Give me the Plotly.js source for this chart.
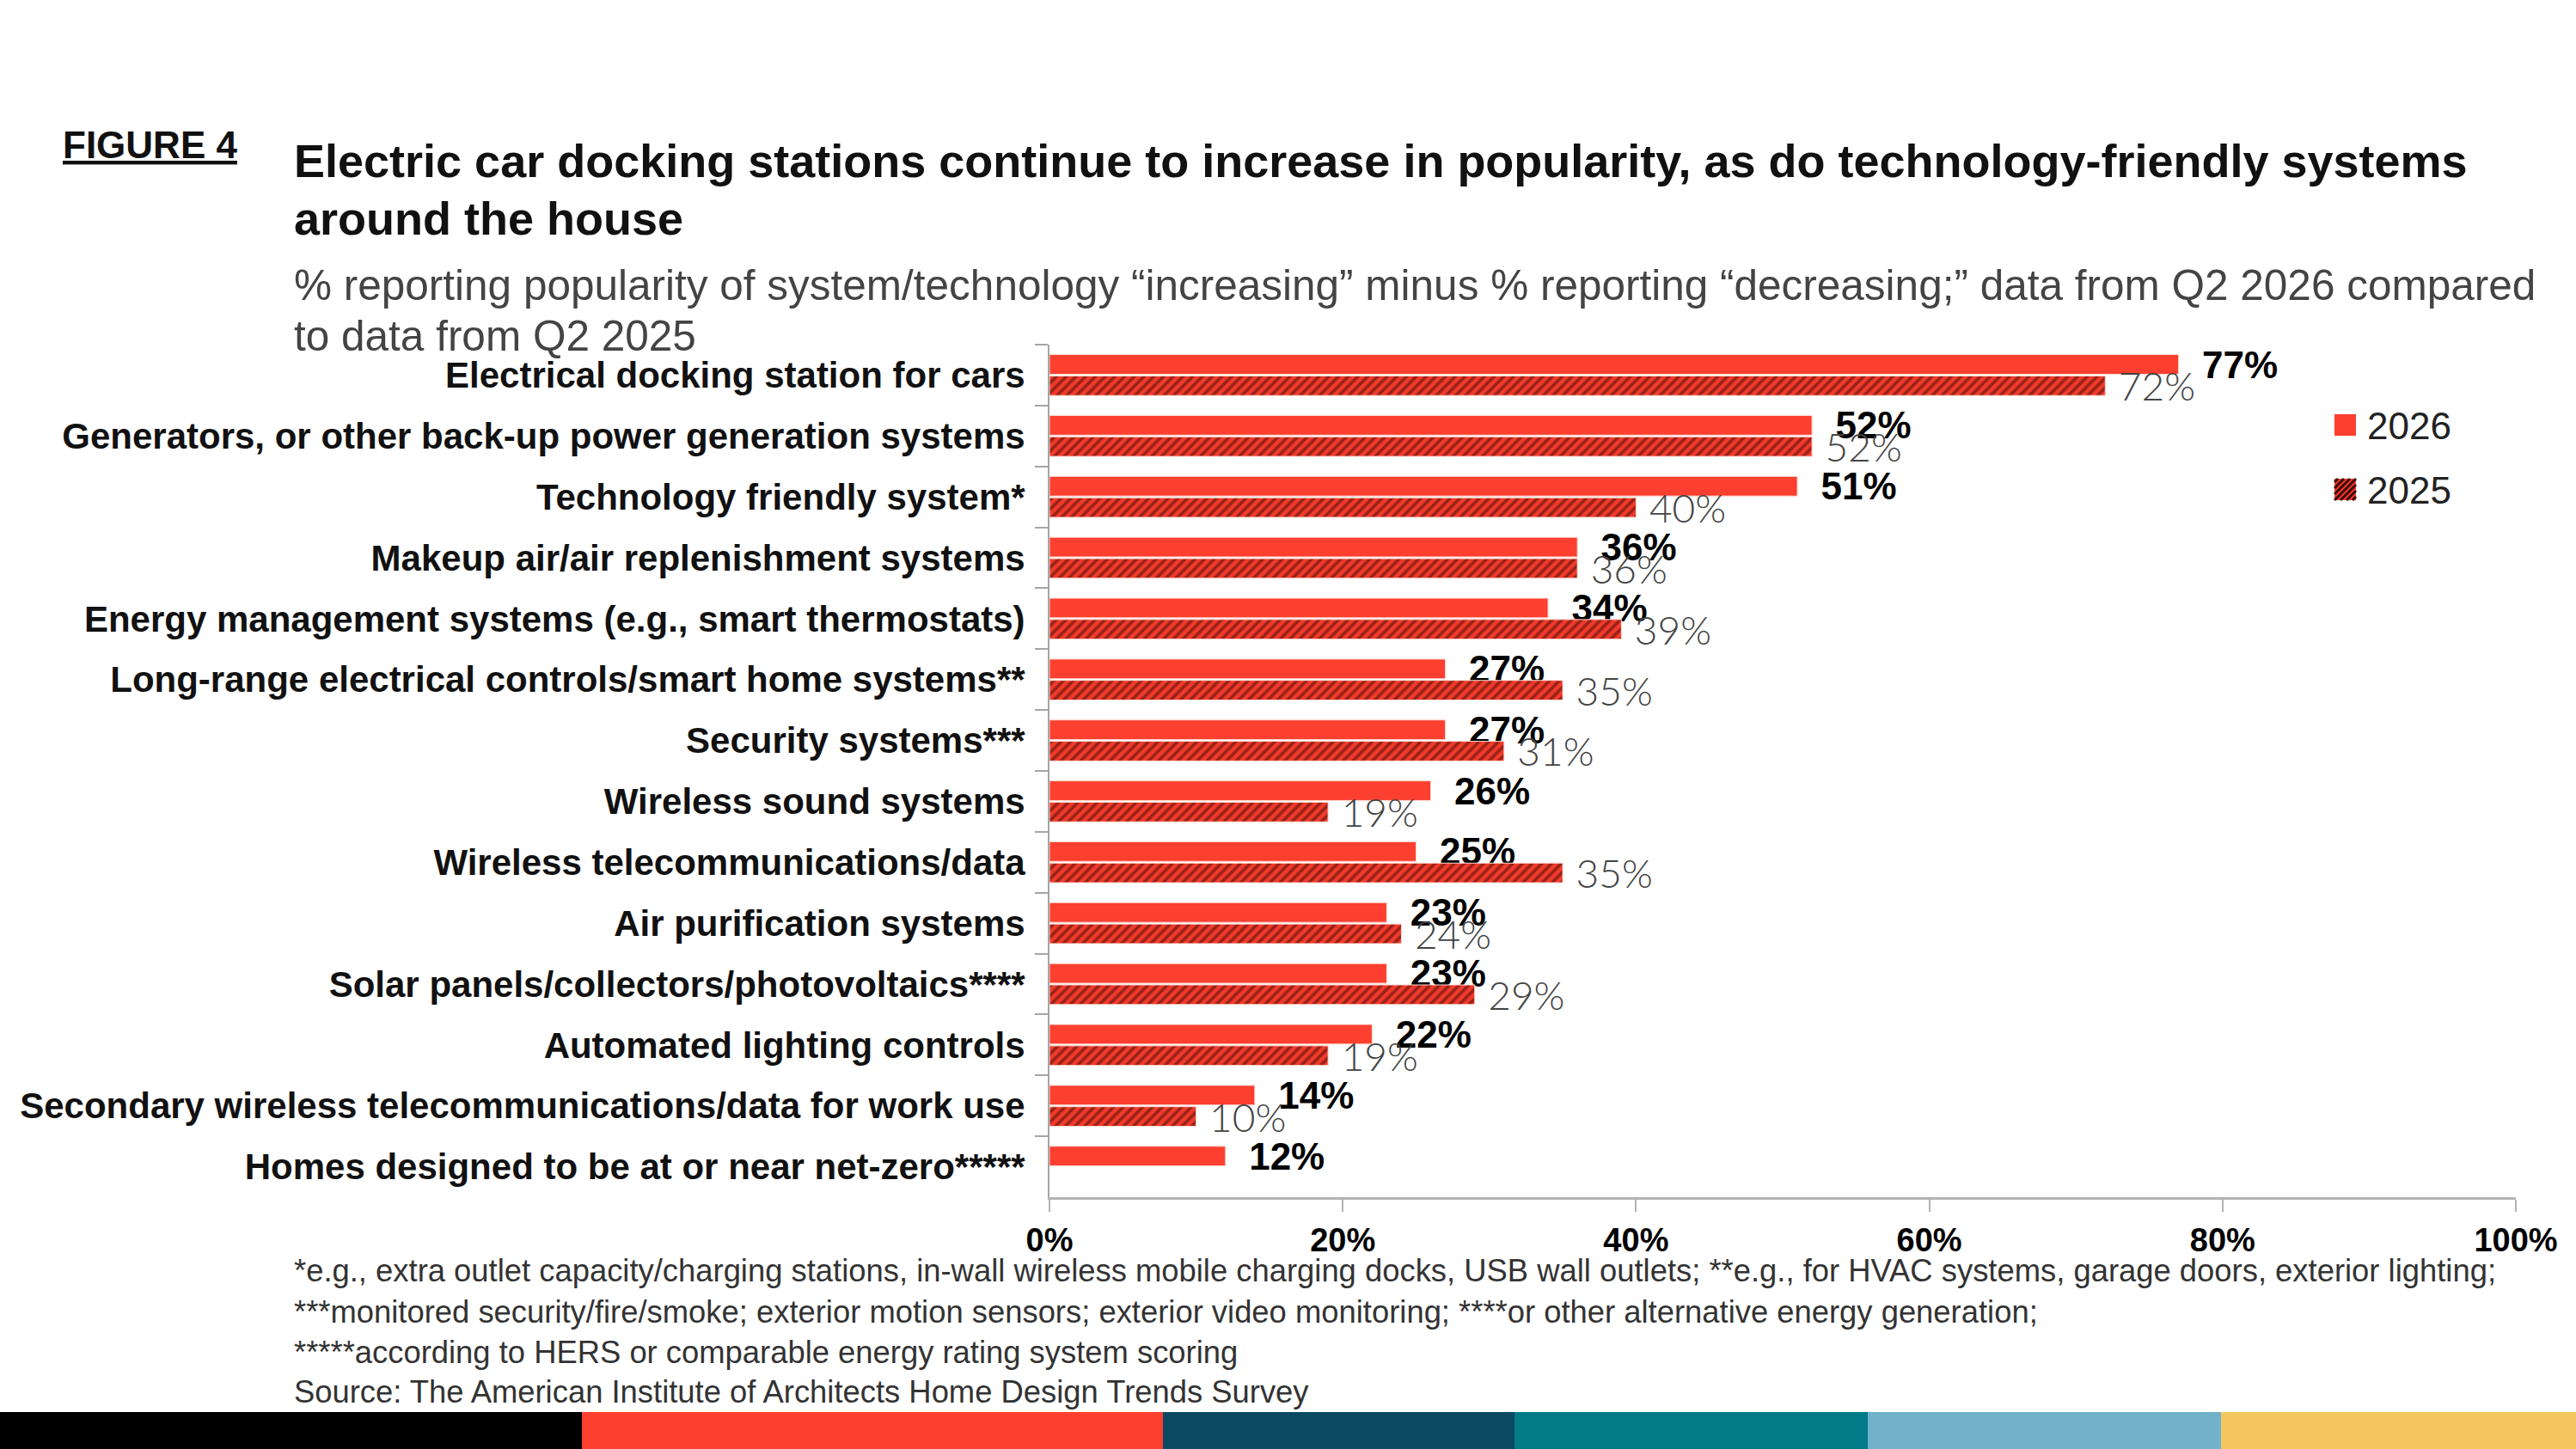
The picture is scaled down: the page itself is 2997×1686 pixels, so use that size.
<!DOCTYPE html>
<html>
<head>
<meta charset="utf-8">
<script src="https://cdn.plot.ly/plotly-3.0.1.min.js"></script>
<style>
html,body{margin:0;padding:0;background:#fff;}
#chart{width:2997px;height:1686px;}
</style>
</head>
<body>
<div id="chart"></div>
<script>
// ---- Data ----
const categories = [
  "Electrical docking station for cars",
  "Generators, or other back-up power generation systems",
  "Technology friendly system*",
  "Makeup air/air replenishment systems",
  "Energy management systems (e.g., smart thermostats)",
  "Long-range electrical controls/smart home systems**",
  "Security systems***",
  "Wireless sound systems",
  "Wireless telecommunications/data",
  "Air purification systems",
  "Solar panels/collectors/photovoltaics****",
  "Automated lighting controls",
  "Secondary wireless telecommunications/data for work use",
  "Homes designed to be at or near net-zero*****"
];
const values2026 = [77, 52, 51, 36, 34, 27, 27, 26, 25, 23, 23, 22, 14, 12];
const values2025 = [72, 52, 40, 36, 39, 35, 31, 19, 35, 24, 29, 19, 10, null];
const seriesNames = ["2026", "2025"];
const xTickVals = [0, 20, 40, 60, 80, 100];
const xTickText = xTickVals.map(v => v + "%");

const figureLabel = "FIGURE 4";
const titleLines = [
  "Electric car docking stations continue to increase in popularity, as do technology-friendly systems",
  "around the house"
];
const subtitleLines = [
  "% reporting popularity of system/technology “increasing” minus % reporting “decreasing;” data from Q2 2026 compared",
  "to data from Q2 2025"
];
const footnotes = [
  "*e.g., extra outlet capacity/charging stations, in-wall wireless mobile charging docks, USB wall outlets; **e.g., for HVAC systems, garage doors, exterior lighting;",
  "***monitored security/fire/smoke; exterior motion sensors; exterior video monitoring; ****or other alternative energy generation;",
  "*****according to HERS or comparable energy rating system scoring",
  "Source: The American Institute of Architects Home Design Trends Survey"
];
const stripeColors = ["#000000", "#fc3f2f", "#0b4a62", "#047b88", "#71b1ca", "#f3c75d"];

// ---- Layout geometry (pixels) ----
const W = 2997, H = 1686;
const L = 1221, R = 2927, T = 401, B = 1393;
const PW = R - L, PH = B - T;
const px = x => (x - L) / PW;
const py = y => (B - y) / PH;

const RED = "#fc3f2f";
const HATCH = "#3d0905";
const NB = "\u00A0";

const traces = [
  {
    type: "bar", orientation: "h", name: seriesNames[0],
    y: categories, x: values2026,
    marker: {color: RED, line: {color: "#ffd9d2", width: 1}},
    text: values2026.map(v => v == null ? "" : NB + NB + v + "%"),
    textposition: "outside", cliponaxis: false, constraintext: "none",
    textfont: {family: "Liberation Sans, Arial, sans-serif", size: 44, color: "#000", weight: 700},
    showlegend: false, hoverinfo: "skip"
  },
  {
    type: "bar", orientation: "h", name: seriesNames[1],
    y: categories, x: values2025,
    marker: {color: RED, line: {color: "#ffd9d2", width: 1},
      pattern: {shape: "/", fgcolor: HATCH, bgcolor: "#f23a2b", size: 8, solidity: 0.45, fillmode: "overlay"}},
    text: values2025.map(v => v == null ? "" : NB + v + "%"),
    textposition: "outside", cliponaxis: false, constraintext: "none",
    textfont: {family: "Lato, Liberation Sans, sans-serif", size: 46, color: "#444", weight: 300},
    showlegend: false, hoverinfo: "skip"
  }
];

const annotations = [
  {text: "<u>" + figureLabel + "</u>", x: px(71), y: py(168), xanchor: "left", yanchor: "middle",
   font: {family: "Liberation Sans Narrow, Liberation Sans, sans-serif", size: 44, color: "#111", weight: 700}}
];
const titleY = [187, 254];
titleLines.forEach((t, i) => annotations.push({
  text: t, x: px(340), y: py(titleY[i]), xanchor: "left", yanchor: "middle", align: "left",
  font: {family: "Liberation Sans, Arial, sans-serif", size: 54, color: "#111", weight: 700}
}));
const subY = [331, 390];
subtitleLines.forEach((t, i) => annotations.push({
  text: t, x: px(340), y: py(subY[i]), xanchor: "left", yanchor: "middle", align: "left",
  font: {family: "Liberation Sans, Arial, sans-serif", size: 49.5, color: "#444"}
}));
const footY = [1478, 1526, 1573, 1619];
footnotes.forEach((t, i) => annotations.push({
  text: t, x: px(340), y: py(footY[i]), xanchor: "left", yanchor: "middle", align: "left",
  font: {family: "Liberation Sans, Arial, sans-serif", size: 36.4, color: "#333"}
}));

// legend (drawn manually for matching symbol size)
const legendItems = [
  {name: seriesNames[0], top: 482, hatch: false},
  {name: seriesNames[1], top: 557, hatch: true}
];
const LX0 = 2716, LS = 25;
const shapes = [];
legendItems.forEach(it => {
  annotations.push({text: it.name, x: px(2752), y: py(it.top + LS / 2 + 1), xanchor: "left", yanchor: "middle",
    font: {family: "Liberation Sans, Arial, sans-serif", size: 44, color: "#222"}});
  shapes.push({type: "rect", xref: "paper", yref: "paper", layer: "above",
    x0: px(LX0), x1: px(LX0 + LS), y0: py(it.top + LS), y1: py(it.top),
    fillcolor: it.hatch ? "#f23a2b" : RED, line: {width: 0}});
  if (it.hatch) {
    for (let c = -LS + 4; c < LS; c += 7) {
      let xa = Math.max(0, c), xb = Math.min(LS, LS + c);
      if (xb - xa < 1) continue;
      shapes.push({type: "line", xref: "paper", yref: "paper", layer: "above",
        x0: px(LX0 + xa), y0: py(it.top + LS - (xa - c)),
        x1: px(LX0 + xb), y1: py(it.top + LS - (xb - c)),
        line: {color: HATCH, width: 3}});
    }
  }
});

annotations.forEach(a => { a.xref = "paper"; a.yref = "paper"; a.showarrow = false; });

const stripeEdges = [0, 677, 1353, 1762, 2173, 2584, 2997];
stripeColors.forEach((c, i) => shapes.push({
  type: "rect", xref: "paper", yref: "paper", layer: "above",
  x0: px(stripeEdges[i]), x1: px(stripeEdges[i + 1]), y0: py(1643), y1: py(1686),
  fillcolor: c, line: {width: 0}
}));

const layout = {
  width: W, height: H,
  paper_bgcolor: "#fff", plot_bgcolor: "#fff",
  margin: {l: L, r: W - R, t: T, b: H - B, pad: 0},
  barmode: "group", bargap: 0.3, bargroupgap: 0.08,
  showlegend: false,
  xaxis: {
    range: [0, 100], tickmode: "array", tickvals: xTickVals, ticktext: xTickText,
    showgrid: false, zeroline: false, showline: true, linecolor: "#b3b3b3", linewidth: 3,
    ticks: "outside", ticklen: 14, tickwidth: 2, tickcolor: "#b3b3b3",
    tickfont: {family: "Liberation Sans, Arial, sans-serif", size: 38, color: "#000", weight: 700},
    ticklabelstandoff: 0, fixedrange: true
  },
  yaxis: {
    type: "category", categoryorder: "array", categoryarray: categories, autorange: "reversed",
    showgrid: false, zeroline: false, showline: true, linecolor: "#a6a6a6", linewidth: 2,
    ticks: "outside", tickson: "boundaries", ticklen: 15, tickwidth: 2, tickcolor: "#a6a6a6",
    tickfont: {family: "Liberation Sans, Arial, sans-serif", size: 42, color: "#111", weight: 700},
    ticklabelstandoff: 18, fixedrange: true
  },
  annotations: annotations,
  shapes: shapes
};

Plotly.newPlot("chart", traces, layout, {displayModeBar: false, staticPlot: true});
</script>
</body>
</html>
